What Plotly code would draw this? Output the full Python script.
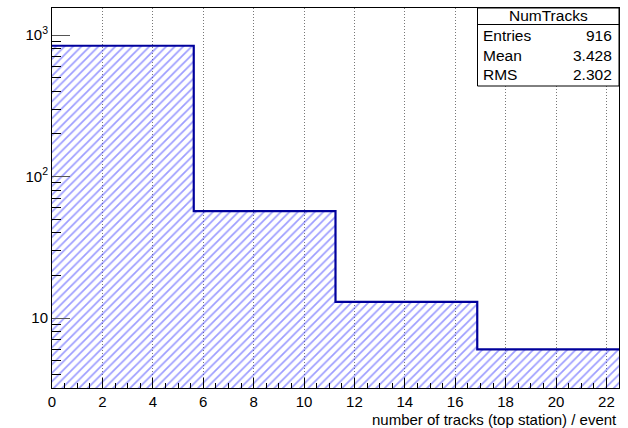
import plotly.graph_objects as go

# Histogram "NumTracks": 4 bins over [0, 22.5]
bin_edges = [0.0, 5.625, 11.25, 16.875, 22.5]
counts = [840, 57, 13, 6]
stats_title = "NumTracks"
stats_rows = [("Entries", "916"), ("Mean", "3.428"), ("RMS", "2.302")]
x_title = "number of tracks (top station) / event"

centers = [(a + b) / 2 for a, b in zip(bin_edges[:-1], bin_edges[1:])]
widths = [b - a for a, b in zip(bin_edges[:-1], bin_edges[1:])]

fig = go.Figure()

# hatched fill
fig.add_trace(go.Bar(
    x=centers, y=counts, width=widths,
    marker=dict(
        color="rgba(0,0,0,0)",
        line=dict(width=0),
        pattern=dict(shape="/", fgcolor="#3c3cff", bgcolor="rgba(0,0,0,0)",
                     size=6, solidity=0.28),
    ),
    hoverinfo="skip", showlegend=False,
))

# step outline
fig.add_trace(go.Scatter(
    x=bin_edges, y=counts + [counts[-1]],
    mode="lines", line=dict(shape="hv", color="#00009c", width=2.2),
    hoverinfo="skip", showlegend=False,
))

font = "Liberation Sans, Arial, sans-serif"

fig.update_layout(
    width=628, height=428,
    margin=dict(l=52, r=9, t=8, b=40),
    paper_bgcolor="white", plot_bgcolor="white",
    bargap=0,
    font=dict(family=font, size=15, color="black"),
    xaxis=dict(
        range=[0, 22.5], tickmode="linear", tick0=0, dtick=2,
        ticks="inside", ticklen=10, tickcolor="black", tickwidth=1,
        showline=True, linecolor="black", linewidth=1, mirror=True,
        showgrid=True, gridcolor="#777777", griddash="1px,2px", gridwidth=1,
        zeroline=False,
        minor=dict(dtick=0.5, ticks="inside", ticklen=5, tickcolor="black", showgrid=False),
        tickfont=dict(size=15),
    ),
    yaxis=dict(
        type="log", range=[0.5053, 3.191],
        tickmode="array", tickvals=[10, 100, 1000],
        ticktext=["10", "10<sup>2</sup>", "10<sup>3</sup>"],
        ticks="inside", ticklen=18, tickcolor="#555555", tickwidth=1,
        showline=True, linecolor="black", linewidth=1, mirror=True,
        showgrid=False, zeroline=False,
        minor=dict(tickmode="array",
                   tickvals=[4, 5, 6, 7, 8, 9, 20, 30, 40, 50, 60, 70, 80, 90,
                             200, 300, 400, 500, 600, 700, 800, 900],
                   ticks="inside", ticklen=9, tickcolor="black", showgrid=False),
        tickfont=dict(size=15),
    ),
)

fig.add_annotation(
    text=x_title, xref="paper", yref="paper", x=1.0, y=-0.084,
    xanchor="right", yanchor="middle", showarrow=False,
    font=dict(family=font, size=15),
)

# statistics box
bx0, bx1 = 477.5, 619.0
by0, by1, bsep = 8.0, 86.0, 24.5
pw, ph = 628 - 52 - 9, 428 - 8 - 40


def px(x):
    return (x - 52) / pw


def py(y):
    return 1 - (y - 8) / ph


fig.add_shape(type="rect", xref="paper", yref="paper",
              x0=px(bx0), x1=px(bx1), y0=py(by1), y1=py(by0),
              line=dict(color="black", width=1), fillcolor="white", layer="above")
fig.add_shape(type="line", xref="paper", yref="paper",
              x0=px(bx0), x1=px(bx1), y0=py(bsep), y1=py(bsep),
              line=dict(color="black", width=1), layer="above")
fig.add_annotation(text=stats_title, xref="paper", yref="paper",
                   x=px((bx0 + bx1) / 2), y=py(16), xanchor="center", yanchor="middle",
                   showarrow=False, font=dict(family=font, size=15.5))
for i, (k, v) in enumerate(stats_rows):
    yy = py(35.5 + i * 19.5)
    fig.add_annotation(text=k, xref="paper", yref="paper", x=px(bx0 + 3), y=yy,
                       xanchor="left", yanchor="middle", showarrow=False,
                       font=dict(family=font, size=15.5))
    fig.add_annotation(text=v, xref="paper", yref="paper", x=px(bx1 - 5), y=yy,
                       xanchor="right", yanchor="middle", showarrow=False,
                       font=dict(family=font, size=15.5))

fig.write_html("out.html")
